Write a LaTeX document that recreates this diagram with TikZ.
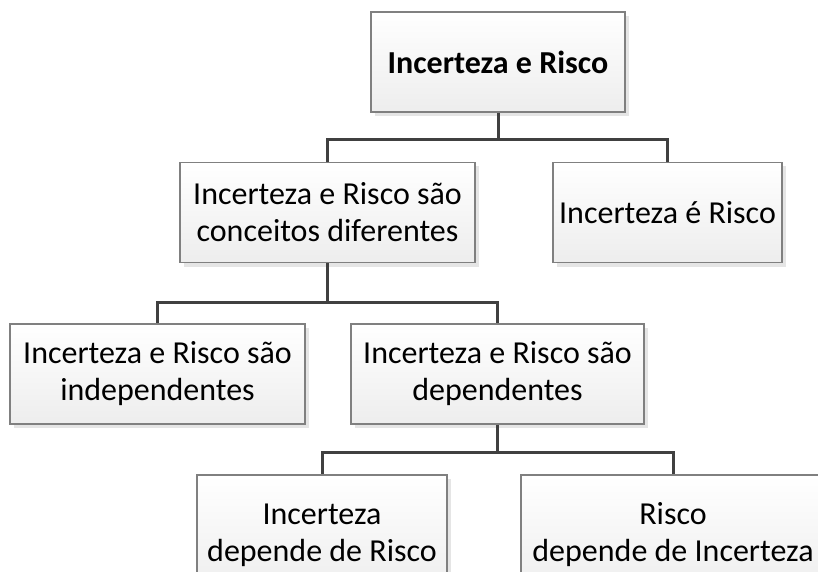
\documentclass[tikz,border=0pt]{standalone}
\usepackage{fontspec}
\setmainfont{Carlito}
\usetikzlibrary{shadows}
\tikzset{
  caixa/.style={draw=black!50, line width=1.2pt, top color=white, bottom color=black!7,
    drop shadow={shadow xshift=4pt, shadow yshift=-4pt, fill=black!10, opacity=1},
    minimum height=100pt, inner sep=0pt, align=center,
    font=\fontsize{32}{37}\selectfont},
  liga/.style={line width=3pt, black!75}
}
\begin{document}
\begin{tikzpicture}[x=1pt,y=-1pt]
\useasboundingbox (0,0) rectangle (818,572);
\clip (0,0) rectangle (818,572);
%connectors
\coordinate (h1) at (0,140);
\coordinate (h2) at (0,302);
\coordinate (h3) at (0,452);
%boxes
\node[caixa, minimum width=254pt, font=\fontsize{32}{37}\selectfont\bfseries] (topo) at (498,62) {Incerteza e Risco};
\node[caixa, minimum width=295pt] (dif) at (327.5,212.5) {Incerteza e Risco são\\conceitos diferentes};
\node[caixa, minimum width=229pt] (igual) at (667.5,212.5) {Incerteza é Risco};
\node[caixa, minimum width=295pt] (indep) at (157.5,374) {Incerteza e Risco são\\independentes};
\node[caixa, minimum width=293pt] (dep) at (497.5,374) {Incerteza e Risco são\\dependentes};
\node[caixa, minimum width=250pt, minimum height=120pt] (incr) at (322,535) {Incerteza\\depende de Risco};
\node[caixa, minimum width=304pt, minimum height=120pt] (risc) at (673,535) {Risco\\depende de Incerteza};
%tree lines
\draw[liga] (topo.south) -- (topo.south |- h1) -| (dif.north);
\draw[liga] (topo.south |- h1) -| (igual.north);
\draw[liga] (dif.south) -- (dif.south |- h2) -| (indep.north);
\draw[liga] (dif.south |- h2) -| (dep.north);
\draw[liga] (dep.south) -- (dep.south |- h3) -| (incr.north);
\draw[liga] (dep.south |- h3) -| (risc.north);
\end{tikzpicture}
\end{document}
